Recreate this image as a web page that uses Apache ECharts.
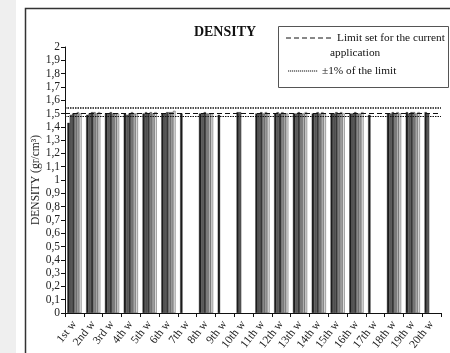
<!DOCTYPE html>
<html>
<head>
<meta charset="utf-8">
<script src="https://cdn.jsdelivr.net/npm/echarts@6/dist/echarts.min.js"></script>
<style>
  html, body { margin: 0; padding: 0; background: #fff; }
  #chart { width: 450px; height: 353px; }
</style>
</head>
<body>
<div id="chart"></div>
<script>
// Weekly density measurements (gr/cm³), one array per sample
const weeks = ["1st w", "2nd w", "3rd w", "4th w", "5th w", "6th w", "7th w", "8th w", "9th w", "10th w",
               "11th w", "12th w", "13th w", "14th w", "15th w", "16th w", "17th w", "18th w", "19th w", "20th w"];
const sample1 = [1.43, 1.49, 1.50, 1.50, 1.50, 1.50, 1.50, 1.50, 1.49, 1.51, 1.50, 1.50, 1.50, 1.50, 1.50, 1.50, 1.49, 1.50, 1.51, 1.51];
const sample2 = [1.49, 1.50, 1.50, 1.49, 1.51, 1.50, null, 1.50, null, 1.51, 1.50, 1.51, 1.50, 1.50, 1.50, 1.50, null, 1.50, 1.50, 1.50];
const sample3 = [1.50, 1.51, 1.51, 1.50, 1.50, 1.51, null, 1.51, null, null, 1.51, 1.50, 1.51, 1.51, 1.51, 1.51, null, 1.51, 1.51, null];
const sample4 = [1.50, 1.51, 1.50, 1.51, 1.51, 1.51, null, 1.50, null, null, 1.50, 1.51, 1.50, 1.50, 1.50, 1.50, null, 1.50, 1.51, null];
const sample5 = [1.51, 1.50, 1.50, 1.50, 1.50, 1.51, null, 1.50, null, null, 1.51, 1.50, 1.50, 1.51, 1.51, 1.50, null, 1.51, 1.50, null];
const sample6 = [1.50, 1.51, 1.50, 1.50, 1.51, 1.52, null, 1.50, null, null, 1.50, 1.50, 1.51, 1.50, 1.50, 1.51, null, 1.50, 1.51, null];

// Reference lines
const limitValue = 1.505;
const upperBand = 1.545;
const lowerBand = 1.478;

const yTicks = { min: 0, max: 2, interval: 0.1 };

const samples = [sample1, sample2, sample3, sample4, sample5, sample6];
const shades = ["#1c1c1c", "#5c5c5c", "#3a3a3a", "#8c8c8c", "#b4b4b4", "#e2e2e2"];

const serif = "'Liberation Serif', 'DejaVu Serif', serif";

const series = samples.map((vals, i) => ({
  type: 'bar',
  name: 'sample ' + (i + 1),
  data: vals,
  barGap: '0%',
  barCategoryGap: '25%',
  itemStyle: { color: shades[i], borderColor: '#222', borderWidth: 0.4 },
  silent: true
}));

// Limit lines drawn across the plot
series[0].markLine = {
  symbol: 'none',
  silent: true,
  label: { show: false },
  data: [
    { yAxis: limitValue, lineStyle: { type: [5, 3], color: '#111', width: 1 } },
    { yAxis: upperBand, lineStyle: { type: [1.5, 1], color: '#111', width: 1.5 } },
    { yAxis: lowerBand, lineStyle: { type: [1.5, 1], color: '#111', width: 1.2 } }
  ]
};

const chart = echarts.init(document.getElementById('chart'), null, { renderer: 'canvas' });

chart.setOption({
  animation: false,
  backgroundColor: '#ffffff',
  grid: { left: 65, right: 9, top: 47, bottom: 39, containLabel: false },
  xAxis: {
    type: 'category',
    data: weeks,
    axisLine: { lineStyle: { color: '#111', width: 1 } },
    axisTick: { show: true, length: 4, lineStyle: { color: '#111' } },
    axisLabel: { rotate: 52, fontFamily: serif, fontSize: 11.5, color: '#222', margin: 9, interval: 0 }
  },
  yAxis: {
    type: 'value',
    min: yTicks.min, max: yTicks.max, interval: yTicks.interval,
    name: 'DENSITY (gr/cm³)',
    nameLocation: 'middle',
    nameGap: 23,
    nameMoveOverlap: false,
    nameTextStyle: { fontFamily: serif, fontSize: 11.5, color: '#222' },
    axisLine: { show: true, lineStyle: { color: '#111', width: 1 } },
    axisTick: { show: true, length: 4, lineStyle: { color: '#111' } },
    splitLine: { show: false },
    axisLabel: {
      fontFamily: serif, fontSize: 11.5, color: '#222', margin: 5,
      formatter: v => String(Number(v.toFixed(1))).replace('.', ',')
    }
  },
  graphic: [
    { type: 'rect', left: 0, top: 0, shape: { width: 16, height: 353 }, style: { fill: '#efefef' }, silent: true },
    { type: 'rect', shape: { x: 25.5, y: 8.5, width: 440, height: 360 }, style: { fill: 'none', stroke: '#333', lineWidth: 1.5 }, silent: true },
    { type: 'text', x: 225, y: 32, style: { text: 'DENSITY', font: "bold 14px 'Liberation Serif', serif", fill: '#111', align: 'center', verticalAlign: 'middle' }, silent: true },
    // Legend box
    { type: 'rect', shape: { x: 278.5, y: 26.5, width: 170, height: 61 }, style: { fill: '#fff', stroke: '#555', lineWidth: 1 }, silent: true },
    { type: 'line', shape: { x1: 286, y1: 38, x2: 334, y2: 38 }, style: { stroke: '#111', lineWidth: 1, lineDash: [5, 3] }, silent: true },
    { type: 'text', x: 337, y: 38, style: { text: 'Limit set for the current', font: "11.3px 'Liberation Serif', serif", fill: '#111', verticalAlign: 'middle' }, silent: true },
    { type: 'text', x: 330, y: 53, style: { text: 'application', font: "11.3px 'Liberation Serif', serif", fill: '#111', verticalAlign: 'middle' }, silent: true },
    { type: 'line', shape: { x1: 288, y1: 71, x2: 318, y2: 71 }, style: { stroke: '#111', lineWidth: 1.2, lineDash: [1.2, 0.8] }, silent: true },
    { type: 'text', x: 322, y: 71, style: { text: '±1% of the limit', font: "11.3px 'Liberation Serif', serif", fill: '#111', verticalAlign: 'middle' }, silent: true }
  ],
  series: series
});
</script>
</body>
</html>
